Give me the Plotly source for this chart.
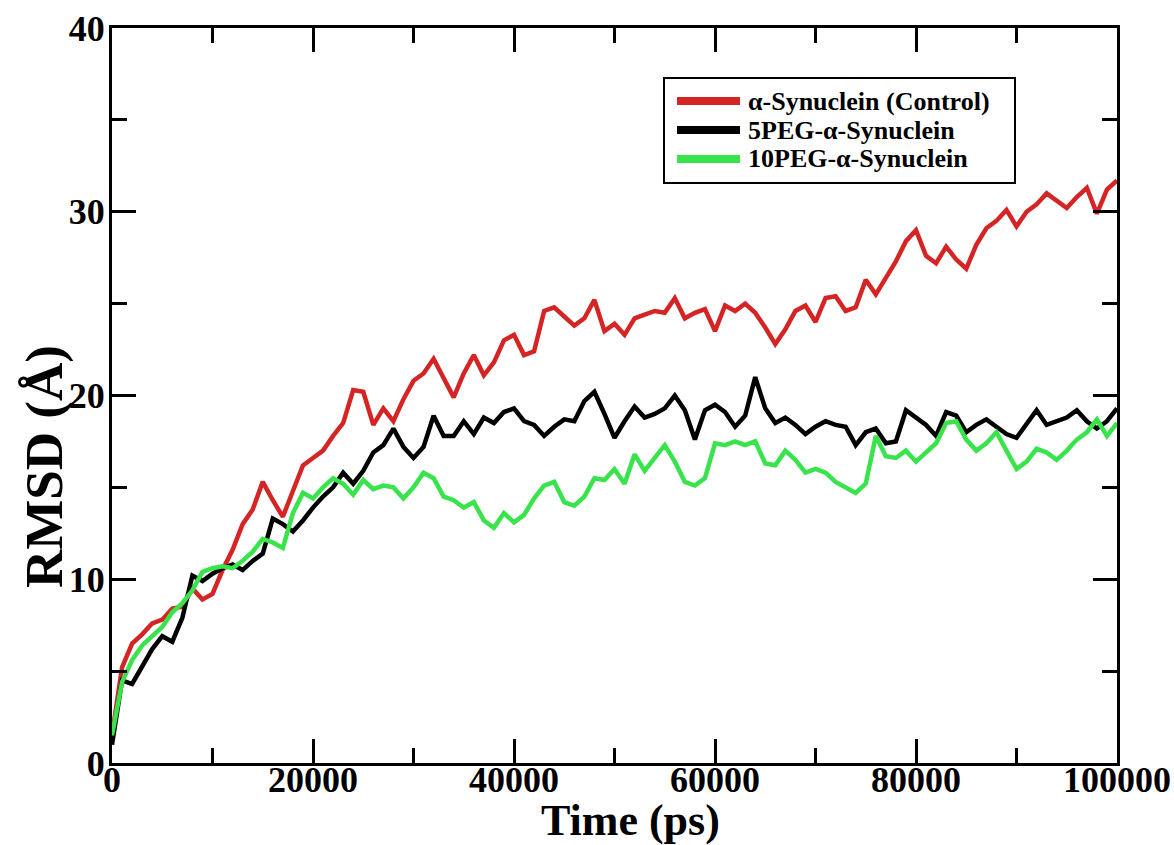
import plotly.graph_objects as go

# time axis, ps (one reading every 1000 ps)
time_ps = list(range(0, 100001, 1000))

rmsd_control = [
    1.5, 5.2, 6.5, 7.0, 7.6, 7.8, 8.4, 8.5, 9.5, 8.9,
    9.2, 10.5, 11.6, 13.0, 13.8, 15.3, 14.3, 13.4, 14.8, 16.2,
    16.6, 17.0, 17.8, 18.5, 20.3, 20.2, 18.4, 19.3, 18.6, 19.8,
    20.8, 21.2, 22.0, 21.0, 19.9, 21.2, 22.2, 21.1, 21.8, 23.0,
    23.3, 22.2, 22.4, 24.6, 24.8, 24.3, 23.8, 24.2, 25.2, 23.5,
    23.9, 23.3, 24.2, 24.4, 24.6, 24.5, 25.3, 24.2, 24.5, 24.7,
    23.5, 24.9, 24.6, 25.0, 24.5, 23.7, 22.8, 23.6, 24.6, 24.9,
    24.0, 25.3, 25.4, 24.6, 24.8, 26.3, 25.5, 26.4, 27.3, 28.4,
    29.0, 27.6, 27.2, 28.1, 27.4, 26.9, 28.2, 29.1, 29.5, 30.1,
    29.2, 30.0, 30.4, 31.0, 30.6, 30.2, 30.8, 31.3, 29.9, 31.2,
    31.7,
]

rmsd_5peg = [
    1.0, 4.5, 4.3, 5.3, 6.2, 6.9, 6.6, 7.9, 10.2, 9.9,
    10.3, 10.6, 10.8, 10.5, 11.0, 11.4, 13.3, 13.0, 12.6, 13.2,
    13.9, 14.5, 15.0, 15.8, 15.2, 15.9, 16.9, 17.3, 18.2, 17.2,
    16.6, 17.2, 18.9, 17.8, 17.8, 18.6, 17.9, 18.8, 18.5, 19.1,
    19.3, 18.6, 18.4, 17.8, 18.3, 18.7, 18.6, 19.7, 20.2, 19.0,
    17.7, 18.6, 19.4, 18.8, 19.0, 19.3, 20.0, 19.2, 17.6, 19.2,
    19.5, 19.1, 18.3, 18.9, 21.0, 19.3, 18.5, 18.8, 18.4, 17.9,
    18.3, 18.6, 18.4, 18.3, 17.3, 18.0, 18.2, 17.4, 17.5, 19.2,
    18.8, 18.4, 17.8, 19.1, 18.9, 18.0, 18.4, 18.7, 18.3, 17.9,
    17.7, 18.5, 19.2, 18.4, 18.6, 18.8, 19.2, 18.6, 18.2, 18.6,
    19.3,
]

rmsd_10peg = [
    1.5, 4.4, 5.6, 6.4, 6.9, 7.4, 8.2, 8.7, 9.4, 10.4,
    10.6, 10.7, 10.6, 11.0, 11.5, 12.2, 12.0, 11.7, 13.6, 14.7,
    14.4, 15.0, 15.5, 15.2, 14.6, 15.4, 14.9, 15.1, 15.0, 14.4,
    15.0, 15.8, 15.5, 14.5, 14.3, 13.9, 14.2, 13.2, 12.8, 13.6,
    13.1, 13.5, 14.4, 15.1, 15.3, 14.2, 14.0, 14.5, 15.5, 15.4,
    16.0, 15.2, 16.8, 15.9, 16.6, 17.3, 16.4, 15.3, 15.1, 15.5,
    17.4, 17.3, 17.5, 17.3, 17.5, 16.3, 16.2, 17.0, 16.5, 15.8,
    16.0, 15.8, 15.3, 15.0, 14.7, 15.2, 17.8, 16.7, 16.6, 17.0,
    16.4, 16.9, 17.4, 18.5, 18.6, 17.6, 17.0, 17.4, 18.0, 17.0,
    16.0, 16.4, 17.1, 16.9, 16.5, 17.0, 17.6, 18.0, 18.7, 17.8,
    18.5,
]

series_names = ["α-Synuclein (Control)", "5PEG-α-Synuclein", "10PEG-α-Synuclein"]
series_colors = ["#d42424", "#000000", "#38e34c"]

x_ticks = [0, 20000, 40000, 60000, 80000, 100000]
x_minor = [10000, 30000, 50000, 70000, 90000]
y_ticks = [0, 10, 20, 30, 40]
y_minor = [5, 15, 25, 35]

SERIF = "Liberation Serif"

fig = go.Figure()
for name, values, color in zip(series_names, [rmsd_control, rmsd_5peg, rmsd_10peg], series_colors):
    fig.add_trace(go.Scatter(x=time_ps, y=values, mode="lines", name=name,
                             line=dict(color=color, width=4.5), showlegend=False))

axis_common = dict(
    showline=True, linecolor="black", linewidth=3, mirror="allticks",
    ticks="inside", ticklen=24, tickwidth=3, tickcolor="black",
    showgrid=False, zeroline=False, automargin=False,
    tickfont=dict(family=SERIF, size=36, color="black", weight="bold"),
)

fig.update_xaxes(
    range=[0, 100000], tickvals=x_ticks, ticktext=[str(v) for v in x_ticks],
    minor=dict(tickvals=x_minor, ticks="inside", ticklen=15, tickwidth=3, tickcolor="black"),
    ticklabelstandoff=-17,
    **axis_common,
)
fig.update_yaxes(
    range=[0, 40], tickvals=y_ticks,
    minor=dict(tickvals=y_minor, ticks="inside", ticklen=15, tickwidth=3, tickcolor="black"),
    ticklabelstandoff=-3,
    **axis_common,
)

# plot area in pixels of the 1174x845 page
L, T, W, H = 112, 28, 1005, 735


def px(xp):
    return (xp - L) / W


def py(yp):
    return (T + H - yp) / H


# axis titles (sit off-centre in the original)
fig.add_annotation(xref="paper", yref="paper", x=px(630), y=py(821),
                   xanchor="center", yanchor="middle", showarrow=False,
                   text="Time (ps)", font=dict(family=SERIF, size=44, color="black", weight="bold"))
fig.add_annotation(xref="paper", yref="paper", x=px(44), y=py(467),
                   xanchor="center", yanchor="middle", showarrow=False, textangle=-90,
                   text="RMSD (Å)", font=dict(family=SERIF, size=53, color="black", weight="bold"))

# legend drawn by hand so the samples are long and thick like the original
fig.add_shape(type="rect", xref="paper", yref="paper",
              x0=px(664), x1=px(1015), y0=py(183), y1=py(78),
              line=dict(color="black", width=2), fillcolor="white", layer="above")
for i, (name, color) in enumerate(zip(series_names, series_colors)):
    yrow = 101 + i * 29
    fig.add_shape(type="line", xref="paper", yref="paper",
                  x0=px(677), x1=px(740), y0=py(yrow), y1=py(yrow),
                  line=dict(color=color, width=8), layer="above")
    fig.add_annotation(xref="paper", yref="paper", x=px(746), y=py(yrow),
                       xanchor="left", yanchor="middle", showarrow=False,
                       text=name, font=dict(family=SERIF, size=26, color="black", weight="bold"))

fig.update_layout(
    width=1174, height=845,
    margin=dict(l=L, r=1174 - L - W, t=T, b=845 - T - H),
    paper_bgcolor="white", plot_bgcolor="white",
    showlegend=False,
)

# drop the default 8px page margin so the figure fills the window exactly
fig.write_html("out.html", config={"displayModeBar": False},
               post_script="document.body.style.margin='0';document.body.style.overflow='hidden';")
